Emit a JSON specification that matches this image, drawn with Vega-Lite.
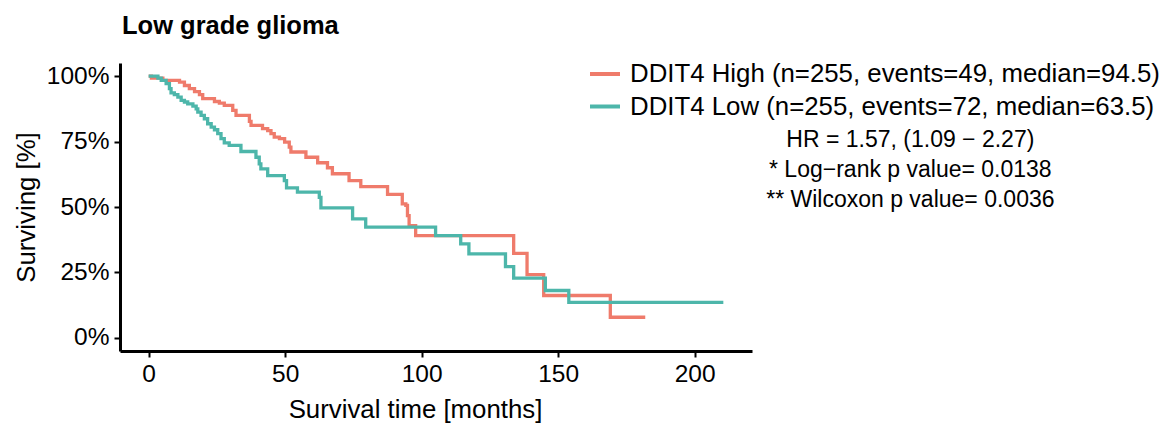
{
  "$schema": "https://vega.github.io/schema/vega-lite/v6.json",
  "width": 632,
  "height": 288,
  "autosize": {"type": "none"},
  "padding": {"left": 120, "top": 63, "right": 419, "bottom": 73},
  "background": "white",
  "config": {"view": {"stroke": null}, "font": "Liberation Sans"},
  "title": {"text": "Low grade glioma", "anchor": "start", "frame": "group", "font": "Liberation Sans", "fontSize": 25.5, "fontWeight": "bold", "color": "#000", "baseline": "alphabetic", "offset": -2, "dx": 2},
  "data": {"values": [
    {"group": "High", "t": 0, "s": 1},
    {"group": "High", "t": 1, "s": 0.992},
    {"group": "High", "t": 5.2, "s": 0.984},
    {"group": "High", "t": 11.3, "s": 0.977},
    {"group": "High", "t": 13.1, "s": 0.964},
    {"group": "High", "t": 14.9, "s": 0.952},
    {"group": "High", "t": 16.8, "s": 0.941},
    {"group": "High", "t": 18.6, "s": 0.929},
    {"group": "High", "t": 19.8, "s": 0.914},
    {"group": "High", "t": 24.1, "s": 0.903},
    {"group": "High", "t": 25.9, "s": 0.897},
    {"group": "High", "t": 27.7, "s": 0.888},
    {"group": "High", "t": 30.8, "s": 0.869},
    {"group": "High", "t": 32, "s": 0.85},
    {"group": "High", "t": 36.9, "s": 0.827},
    {"group": "High", "t": 37.5, "s": 0.812},
    {"group": "High", "t": 41.7, "s": 0.799},
    {"group": "High", "t": 43.6, "s": 0.792},
    {"group": "High", "t": 44.8, "s": 0.78},
    {"group": "High", "t": 46, "s": 0.767},
    {"group": "High", "t": 47.9, "s": 0.761},
    {"group": "High", "t": 49.8, "s": 0.748},
    {"group": "High", "t": 51.5, "s": 0.729},
    {"group": "High", "t": 52.1, "s": 0.71},
    {"group": "High", "t": 57.6, "s": 0.69},
    {"group": "High", "t": 61.9, "s": 0.669},
    {"group": "High", "t": 65.5, "s": 0.65},
    {"group": "High", "t": 67.3, "s": 0.627},
    {"group": "High", "t": 73.4, "s": 0.601},
    {"group": "High", "t": 77.7, "s": 0.578},
    {"group": "High", "t": 87.5, "s": 0.548},
    {"group": "High", "t": 92.9, "s": 0.512},
    {"group": "High", "t": 94.2, "s": 0.506},
    {"group": "High", "t": 94.8, "s": 0.467},
    {"group": "High", "t": 95.4, "s": 0.429},
    {"group": "High", "t": 97.8, "s": 0.391},
    {"group": "High", "t": 133.7, "s": 0.323},
    {"group": "High", "t": 138.6, "s": 0.242},
    {"group": "High", "t": 144.7, "s": 0.162},
    {"group": "High", "t": 169.1, "s": 0.079},
    {"group": "High", "t": 181.9, "s": 0.079},
    {"group": "Low", "t": 0, "s": 1},
    {"group": "Low", "t": 3.4, "s": 0.992},
    {"group": "Low", "t": 4.6, "s": 0.984},
    {"group": "Low", "t": 6.4, "s": 0.971},
    {"group": "Low", "t": 7.6, "s": 0.952},
    {"group": "Low", "t": 8.2, "s": 0.936},
    {"group": "Low", "t": 9.4, "s": 0.929},
    {"group": "Low", "t": 10.7, "s": 0.92},
    {"group": "Low", "t": 11.9, "s": 0.907},
    {"group": "Low", "t": 13.1, "s": 0.901},
    {"group": "Low", "t": 14.3, "s": 0.894},
    {"group": "Low", "t": 16.2, "s": 0.885},
    {"group": "Low", "t": 17.4, "s": 0.875},
    {"group": "Low", "t": 18, "s": 0.862},
    {"group": "Low", "t": 19.2, "s": 0.85},
    {"group": "Low", "t": 20.4, "s": 0.837},
    {"group": "Low", "t": 21.6, "s": 0.818},
    {"group": "Low", "t": 22.9, "s": 0.805},
    {"group": "Low", "t": 24.1, "s": 0.795},
    {"group": "Low", "t": 25.3, "s": 0.78},
    {"group": "Low", "t": 26.5, "s": 0.761},
    {"group": "Low", "t": 27.7, "s": 0.745},
    {"group": "Low", "t": 29.5, "s": 0.735},
    {"group": "Low", "t": 33.8, "s": 0.712},
    {"group": "Low", "t": 39.3, "s": 0.69},
    {"group": "Low", "t": 40.5, "s": 0.665},
    {"group": "Low", "t": 41.1, "s": 0.646},
    {"group": "Low", "t": 43.6, "s": 0.62},
    {"group": "Low", "t": 49.7, "s": 0.601},
    {"group": "Low", "t": 50.5, "s": 0.573},
    {"group": "Low", "t": 54.5, "s": 0.557},
    {"group": "Low", "t": 62.5, "s": 0.537},
    {"group": "Low", "t": 63.1, "s": 0.497},
    {"group": "Low", "t": 74.7, "s": 0.455},
    {"group": "Low", "t": 79.5, "s": 0.423},
    {"group": "Low", "t": 105.1, "s": 0.391},
    {"group": "Low", "t": 114.3, "s": 0.359},
    {"group": "Low", "t": 117.3, "s": 0.321},
    {"group": "Low", "t": 130.7, "s": 0.272},
    {"group": "Low", "t": 133.7, "s": 0.228},
    {"group": "Low", "t": 145.3, "s": 0.181},
    {"group": "Low", "t": 153.9, "s": 0.136},
    {"group": "Low", "t": 210.5, "s": 0.136}
  ]},
  "layer": [
    {
      "mark": {"type": "line", "interpolate": "step-after", "strokeWidth": 3.3},
      "encoding": {
        "x": {"field": "t", "type": "quantitative",
          "scale": {"domain": [-10.5, 221], "nice": false, "zero": false},
          "axis": {"values": [0, 50, 100, 150, 200], "title": "Survival time [months]", "titleFontSize": 25.8, "titleFontWeight": "normal", "titleColor": "#000", "titleX": 295, "titleY": 66, "titleAlign": "center", "titleBaseline": "alphabetic", "labelFontSize": 24.5, "labelColor": "#000", "labelPadding": 5, "labelFlush": false, "tickSize": 6, "tickWidth": 2, "tickColor": "#000", "domainColor": "#000", "domainWidth": 3, "grid": false}},
        "y": {"field": "s", "type": "quantitative",
          "scale": {"domain": [-0.05, 1.05], "nice": false, "zero": false},
          "axis": {"values": [0, 0.25, 0.5, 0.75, 1], "format": ".0%", "title": "Surviving [%]", "titleFontSize": 25.8, "titleFontWeight": "normal", "titleColor": "#000", "titleX": -86, "titleY": 144, "titleAngle": -90, "titleAlign": "center", "titleBaseline": "alphabetic", "labelFontSize": 24.5, "labelColor": "#000", "labelPadding": 5, "labelFlush": false, "tickSize": 6, "tickWidth": 2, "tickColor": "#000", "domainColor": "#000", "domainWidth": 3, "grid": false}},
        "color": {"field": "group", "type": "nominal",
          "scale": {"domain": ["High", "Low"], "range": ["#EF7B6B", "#4DB6AA"]},
          "legend": {"orient": "none", "legendX": 468, "legendY": -6, "title": null, "symbolType": "stroke", "symbolSize": 900, "symbolStrokeWidth": 4, "labelFontSize": 25.8, "labelColor": "#000", "labelLimit": 900, "labelOffset": 8, "rowPadding": 2.5, "padding": 0,
            "labelExpr": "datum.label == 'High' ? 'DDIT4 High (n=255, events=49, median=94.5)' : 'DDIT4 Low (n=255, events=72, median=63.5)'"}}
      }
    },
    {
      "data": {"values": [{"note": "HR = 1.57, (1.09 − 2.27)\n* Log−rank p value= 0.0138\n** Wilcoxon p value= 0.0036"}]},
      "mark": {"type": "text", "align": "center", "baseline": "alphabetic", "lineBreak": "\n", "lineHeight": 30, "fontSize": 23, "color": "#000"},
      "encoding": {
        "x": {"datum": 279, "type": "quantitative"},
        "y": {"datum": 0.728, "type": "quantitative"},
        "text": {"field": "note"}
      }
    }
  ]
}
